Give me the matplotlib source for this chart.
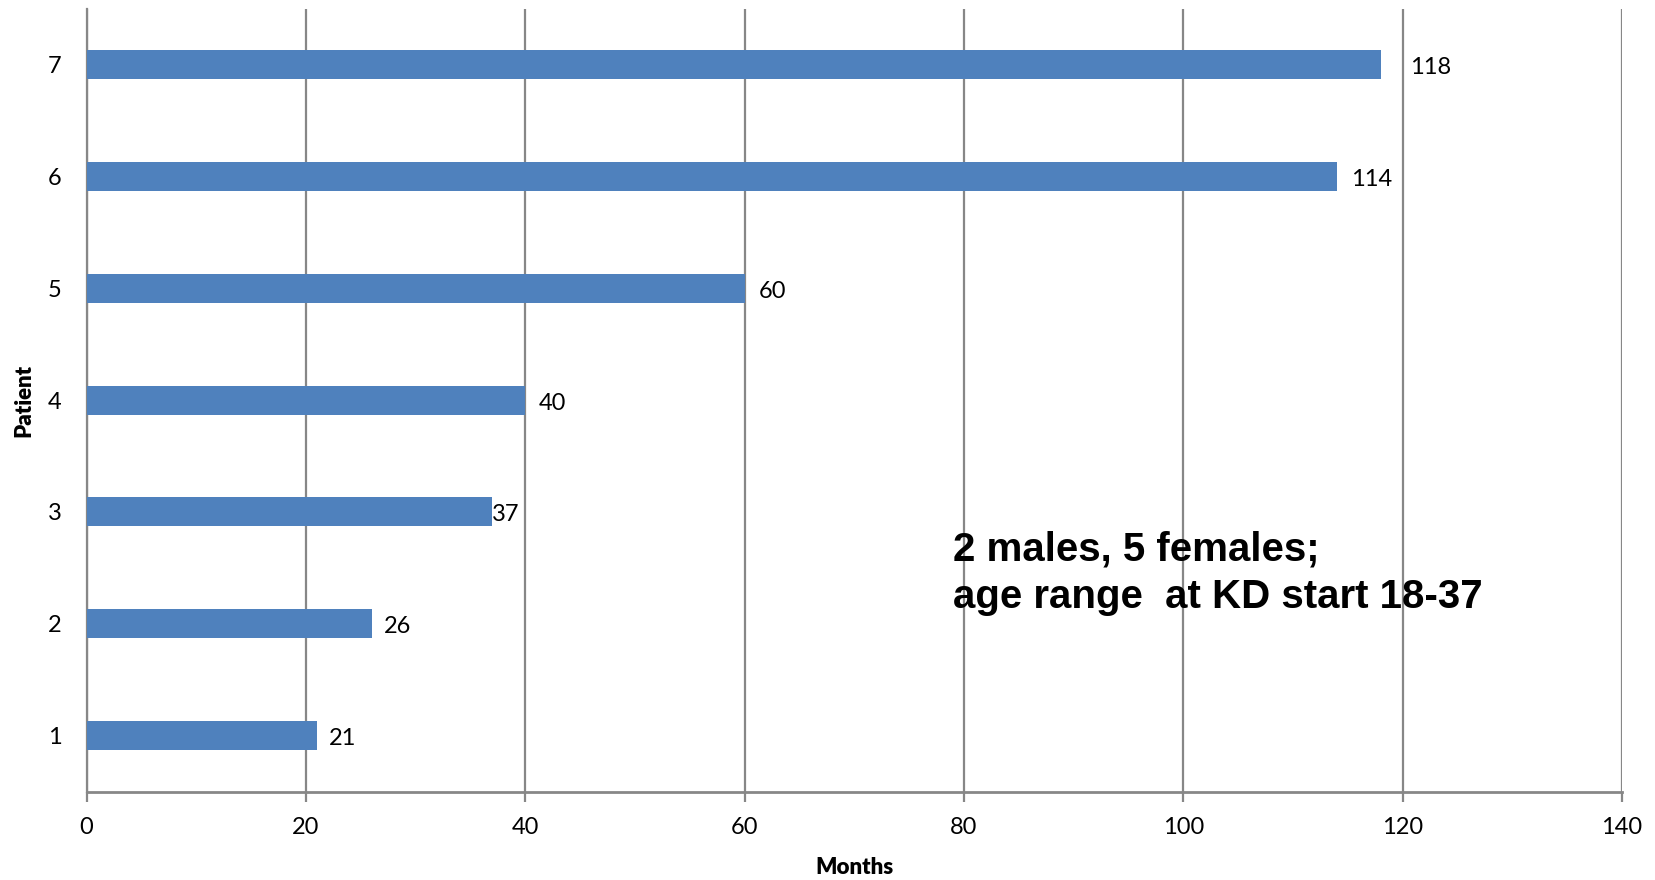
import matplotlib
matplotlib.use("Agg")
import matplotlib.pyplot as plt

# Follow-up duration per patient
patients = ["1", "2", "3", "4", "5", "6", "7"]
months = [21, 26, 37, 40, 60, 114, 118]
x_ticks = [0, 20, 40, 60, 80, 100, 120, 140]
note_lines = ["2 males, 5 females;", "age range  at KD start 18-37"]

# horizontal nudge (pixels) of each value label from its bar end
label_offsets = [12, 12, 0, 14, 14, 14, 29]

BAR = "#4F81BD"
GRID = "#878787"

fig = plt.figure(figsize=(16.55, 8.8), dpi=100)
ax = fig.add_axes([0.0523, 0.1005, 0.9277, 0.8898])

pos = list(range(len(patients)))
ax.barh(pos, months, height=0.26, color=BAR, zorder=3)

ax.set_xlim(0, 140)
ax.set_ylim(-0.5, len(patients) - 0.5)
ax.set_xticks(x_ticks)
ax.set_xticklabels([str(t) for t in x_ticks])
ax.set_yticks(pos)
ax.set_yticklabels(patients)

ax.grid(axis="x", color=GRID, linewidth=1.6, zorder=1)
ax.set_axisbelow(True)
for side in ("top", "right"):
    ax.spines[side].set_visible(False)
ax.spines["left"].set_color(GRID)
ax.spines["left"].set_linewidth(1.6)
ax.spines["bottom"].set_color(GRID)
ax.spines["bottom"].set_linewidth(2.0)

num_font = "Lato"
ax.tick_params(axis="x", direction="out", length=7.5, width=1.6, color=GRID,
               pad=11, labelsize=17)
ax.tick_params(axis="y", length=0, pad=18, labelsize=17)
for lbl in ax.get_xticklabels() + ax.get_yticklabels():
    lbl.set_fontfamily(num_font)

for p, v, off in zip(pos, months, label_offsets):
    ax.annotate(str(v), xy=(v, p), xytext=(off, -3), textcoords="offset pixels",
                ha="left", va="center", fontsize=17, family=num_font, zorder=4)

ax.set_xlabel("Months", fontsize=16, fontweight="heavy", family=num_font)
ax.xaxis.set_label_coords(0.5, -0.084)
ax.set_ylabel("Patient", fontsize=16, fontweight="heavy", family=num_font)
ax.yaxis.set_label_coords(-0.034, 0.5)

ax.text(0.5643, 0.2785, "\n".join(note_lines), transform=ax.transAxes,
        ha="left", va="center", fontsize=29, fontweight="bold",
        family="Liberation Sans", linespacing=1.32, zorder=5)

fig.savefig("out.png", dpi=100)
